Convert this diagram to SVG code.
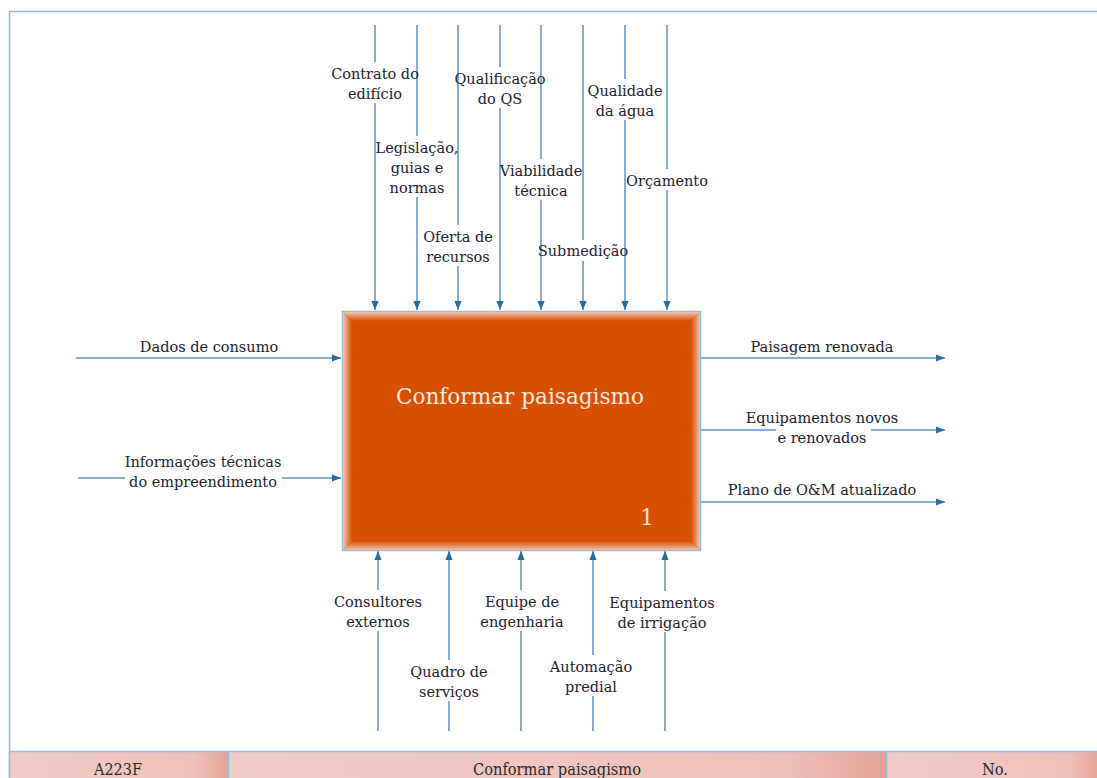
<svg xmlns="http://www.w3.org/2000/svg" width="1097" height="778" viewBox="0 0 1097 778">
<style>
.lbl{font-family:"DejaVu Serif","Liberation Serif",serif;font-size:14.5px;fill:#222233;text-anchor:middle}
.bg{fill:#ffffff}
.ln{stroke:#5b93c4;stroke-width:1.5;fill:none}
.ttl{font-family:"DejaVu Serif","Liberation Serif",serif;font-size:21.6px;fill:#fbeadf;text-anchor:middle}
.ft{font-family:"DejaVu Serif","Liberation Serif",serif;font-size:16px;fill:#2a2a2a;text-anchor:middle}
</style>
<defs>
<marker id="ah" viewBox="0 0 10 10" refX="10" refY="5" markerWidth="9" markerHeight="9" markerUnits="userSpaceOnUse" orient="auto">
<path d="M0,1 L10,5 L0,9 z" fill="#2c6aa0"/>
</marker>
<linearGradient id="gT" x1="0" y1="0" x2="0" y2="1"><stop offset="0" stop-color="#f2c6b6"/><stop offset="1" stop-color="#d94f00"/></linearGradient>
<linearGradient id="gB" x1="0" y1="1" x2="0" y2="0"><stop offset="0" stop-color="#f0c0ae"/><stop offset="1" stop-color="#d94f00"/></linearGradient>
<linearGradient id="gL" x1="0" y1="0" x2="1" y2="0"><stop offset="0" stop-color="#f2c6b6"/><stop offset="1" stop-color="#d94f00"/></linearGradient>
<linearGradient id="gR" x1="1" y1="0" x2="0" y2="0"><stop offset="0" stop-color="#f0c0ae"/><stop offset="1" stop-color="#d94f00"/></linearGradient>
<linearGradient id="gF" x1="0" y1="0" x2="1" y2="0"><stop offset="0" stop-color="#f1cbc6"/><stop offset="0.85" stop-color="#edc1ba"/><stop offset="1" stop-color="#e4a296"/></linearGradient>
</defs>
<rect width="1097" height="778" fill="#ffffff"/>
<path d="M9.5,778 V11.5 H1097" fill="none" stroke="#8fc0e4" stroke-width="1.5"/>

<g id="connectors">
<line class="ln" x1="375" y1="25" x2="375" y2="310" marker-end="url(#ah)"/>
<line class="ln" x1="417" y1="25" x2="417" y2="310" marker-end="url(#ah)"/>
<line class="ln" x1="458" y1="25" x2="458" y2="310" marker-end="url(#ah)"/>
<line class="ln" x1="500" y1="25" x2="500" y2="310" marker-end="url(#ah)"/>
<line class="ln" x1="541" y1="25" x2="541" y2="310" marker-end="url(#ah)"/>
<line class="ln" x1="583" y1="25" x2="583" y2="310" marker-end="url(#ah)"/>
<line class="ln" x1="625" y1="25" x2="625" y2="310" marker-end="url(#ah)"/>
<line class="ln" x1="667" y1="25" x2="667" y2="310" marker-end="url(#ah)"/>
<line class="ln" x1="76" y1="358" x2="341" y2="358" marker-end="url(#ah)"/>
<line class="ln" x1="78" y1="478" x2="341" y2="478" marker-end="url(#ah)"/>
<line class="ln" x1="701" y1="358" x2="945" y2="358" marker-end="url(#ah)"/>
<line class="ln" x1="701" y1="430" x2="945" y2="430" marker-end="url(#ah)"/>
<line class="ln" x1="701" y1="502" x2="945" y2="502" marker-end="url(#ah)"/>
<line class="ln" x1="378" y1="731" x2="378" y2="551" marker-end="url(#ah)"/>
<line class="ln" x1="449" y1="731" x2="449" y2="551" marker-end="url(#ah)"/>
<line class="ln" x1="521" y1="731" x2="521" y2="551" marker-end="url(#ah)"/>
<line class="ln" x1="593" y1="731" x2="593" y2="551" marker-end="url(#ah)"/>
<line class="ln" x1="665" y1="731" x2="665" y2="551" marker-end="url(#ah)"/>
</g>

<g id="labels">
<rect class="bg" x="368" y="62" width="14" height="41"/>
<text class="lbl" x="375" y="79">Contrato do</text>
<text class="lbl" x="375" y="99">edifício</text>
<rect class="bg" x="410" y="136" width="14" height="61"/>
<text class="lbl" x="417" y="153">Legislação,</text>
<text class="lbl" x="417" y="173">guias e</text>
<text class="lbl" x="417" y="193">normas</text>
<rect class="bg" x="451" y="225" width="14" height="41"/>
<text class="lbl" x="458" y="242">Oferta de</text>
<text class="lbl" x="458" y="262">recursos</text>
<rect class="bg" x="493" y="67" width="14" height="41"/>
<text class="lbl" x="500" y="84">Qualificação</text>
<text class="lbl" x="500" y="104">do QS</text>
<rect class="bg" x="534" y="159" width="14" height="41"/>
<text class="lbl" x="541" y="176">Viabilidade</text>
<text class="lbl" x="541" y="196">técnica</text>
<rect class="bg" x="576" y="240" width="14" height="21"/>
<text class="lbl" x="583" y="256">Submedição</text>
<rect class="bg" x="618" y="79" width="14" height="41"/>
<text class="lbl" x="625" y="96">Qualidade</text>
<text class="lbl" x="625" y="116">da água</text>
<rect class="bg" x="660" y="169" width="14" height="21"/>
<text class="lbl" x="667" y="186">Orçamento</text>

<text class="lbl" x="209" y="352">Dados de consumo</text>
<rect class="bg" x="125" y="473" width="157" height="10"/>
<text class="lbl" x="203" y="467">Informações técnicas</text>
<text class="lbl" x="203" y="487">do empreendimento</text>

<text class="lbl" x="822" y="352">Paisagem renovada</text>
<rect class="bg" x="776" y="425" width="95" height="10"/>
<text class="lbl" x="822" y="423">Equipamentos novos</text>
<text class="lbl" x="822" y="443">e renovados</text>
<text class="lbl" x="822" y="495">Plano de O&amp;M atualizado</text>

<rect class="bg" x="371" y="590" width="14" height="41"/>
<text class="lbl" x="378" y="607">Consultores</text>
<text class="lbl" x="378" y="627">externos</text>
<rect class="bg" x="442" y="660" width="14" height="41"/>
<text class="lbl" x="449" y="677">Quadro de</text>
<text class="lbl" x="449" y="697">serviços</text>
<rect class="bg" x="514" y="590" width="14" height="41"/>
<text class="lbl" x="522" y="607">Equipe de</text>
<text class="lbl" x="522" y="627">engenharia</text>
<rect class="bg" x="586" y="655" width="14" height="41"/>
<text class="lbl" x="591" y="672">Automação</text>
<text class="lbl" x="591" y="692">predial</text>
<rect class="bg" x="658" y="591" width="14" height="41"/>
<text class="lbl" x="662" y="608">Equipamentos</text>
<text class="lbl" x="662" y="628">de irrigação</text>
</g>

<g id="node-1">
<rect x="342.5" y="311.5" width="358" height="239" fill="#d94f00" stroke="#8fc0e4" stroke-width="1.5"/>
<polygon points="343,312 700,312 691,321 352,321" fill="url(#gT)"/>
<polygon points="343,550 700,550 691,541 352,541" fill="url(#gB)"/>
<polygon points="343,312 352,321 352,541 343,550" fill="url(#gL)"/>
<polygon points="700,312 691,321 691,541 700,550" fill="url(#gR)"/>
<text class="ttl" x="520" y="404">Conformar paisagismo</text>
<text class="ttl" x="647" y="525">1</text>
</g>

<g id="footer">
<rect x="9.5" y="751.5" width="219" height="30" fill="url(#gF)" stroke="#8fc0e4" stroke-width="1.5"/>
<rect x="228.5" y="751.5" width="658" height="30" fill="url(#gF)" stroke="#8fc0e4" stroke-width="1.5"/>
<rect x="886.5" y="751.5" width="215" height="30" fill="url(#gF)" stroke="#8fc0e4" stroke-width="1.5"/>
<text class="ft" x="118" y="775" textLength="48" lengthAdjust="spacingAndGlyphs">A223F</text>
<text class="ft" x="557" y="775" textLength="168" lengthAdjust="spacingAndGlyphs">Conformar paisagismo</text>
<text class="ft" x="995" y="775" textLength="26" lengthAdjust="spacingAndGlyphs">No.</text>
</g>
</svg>
